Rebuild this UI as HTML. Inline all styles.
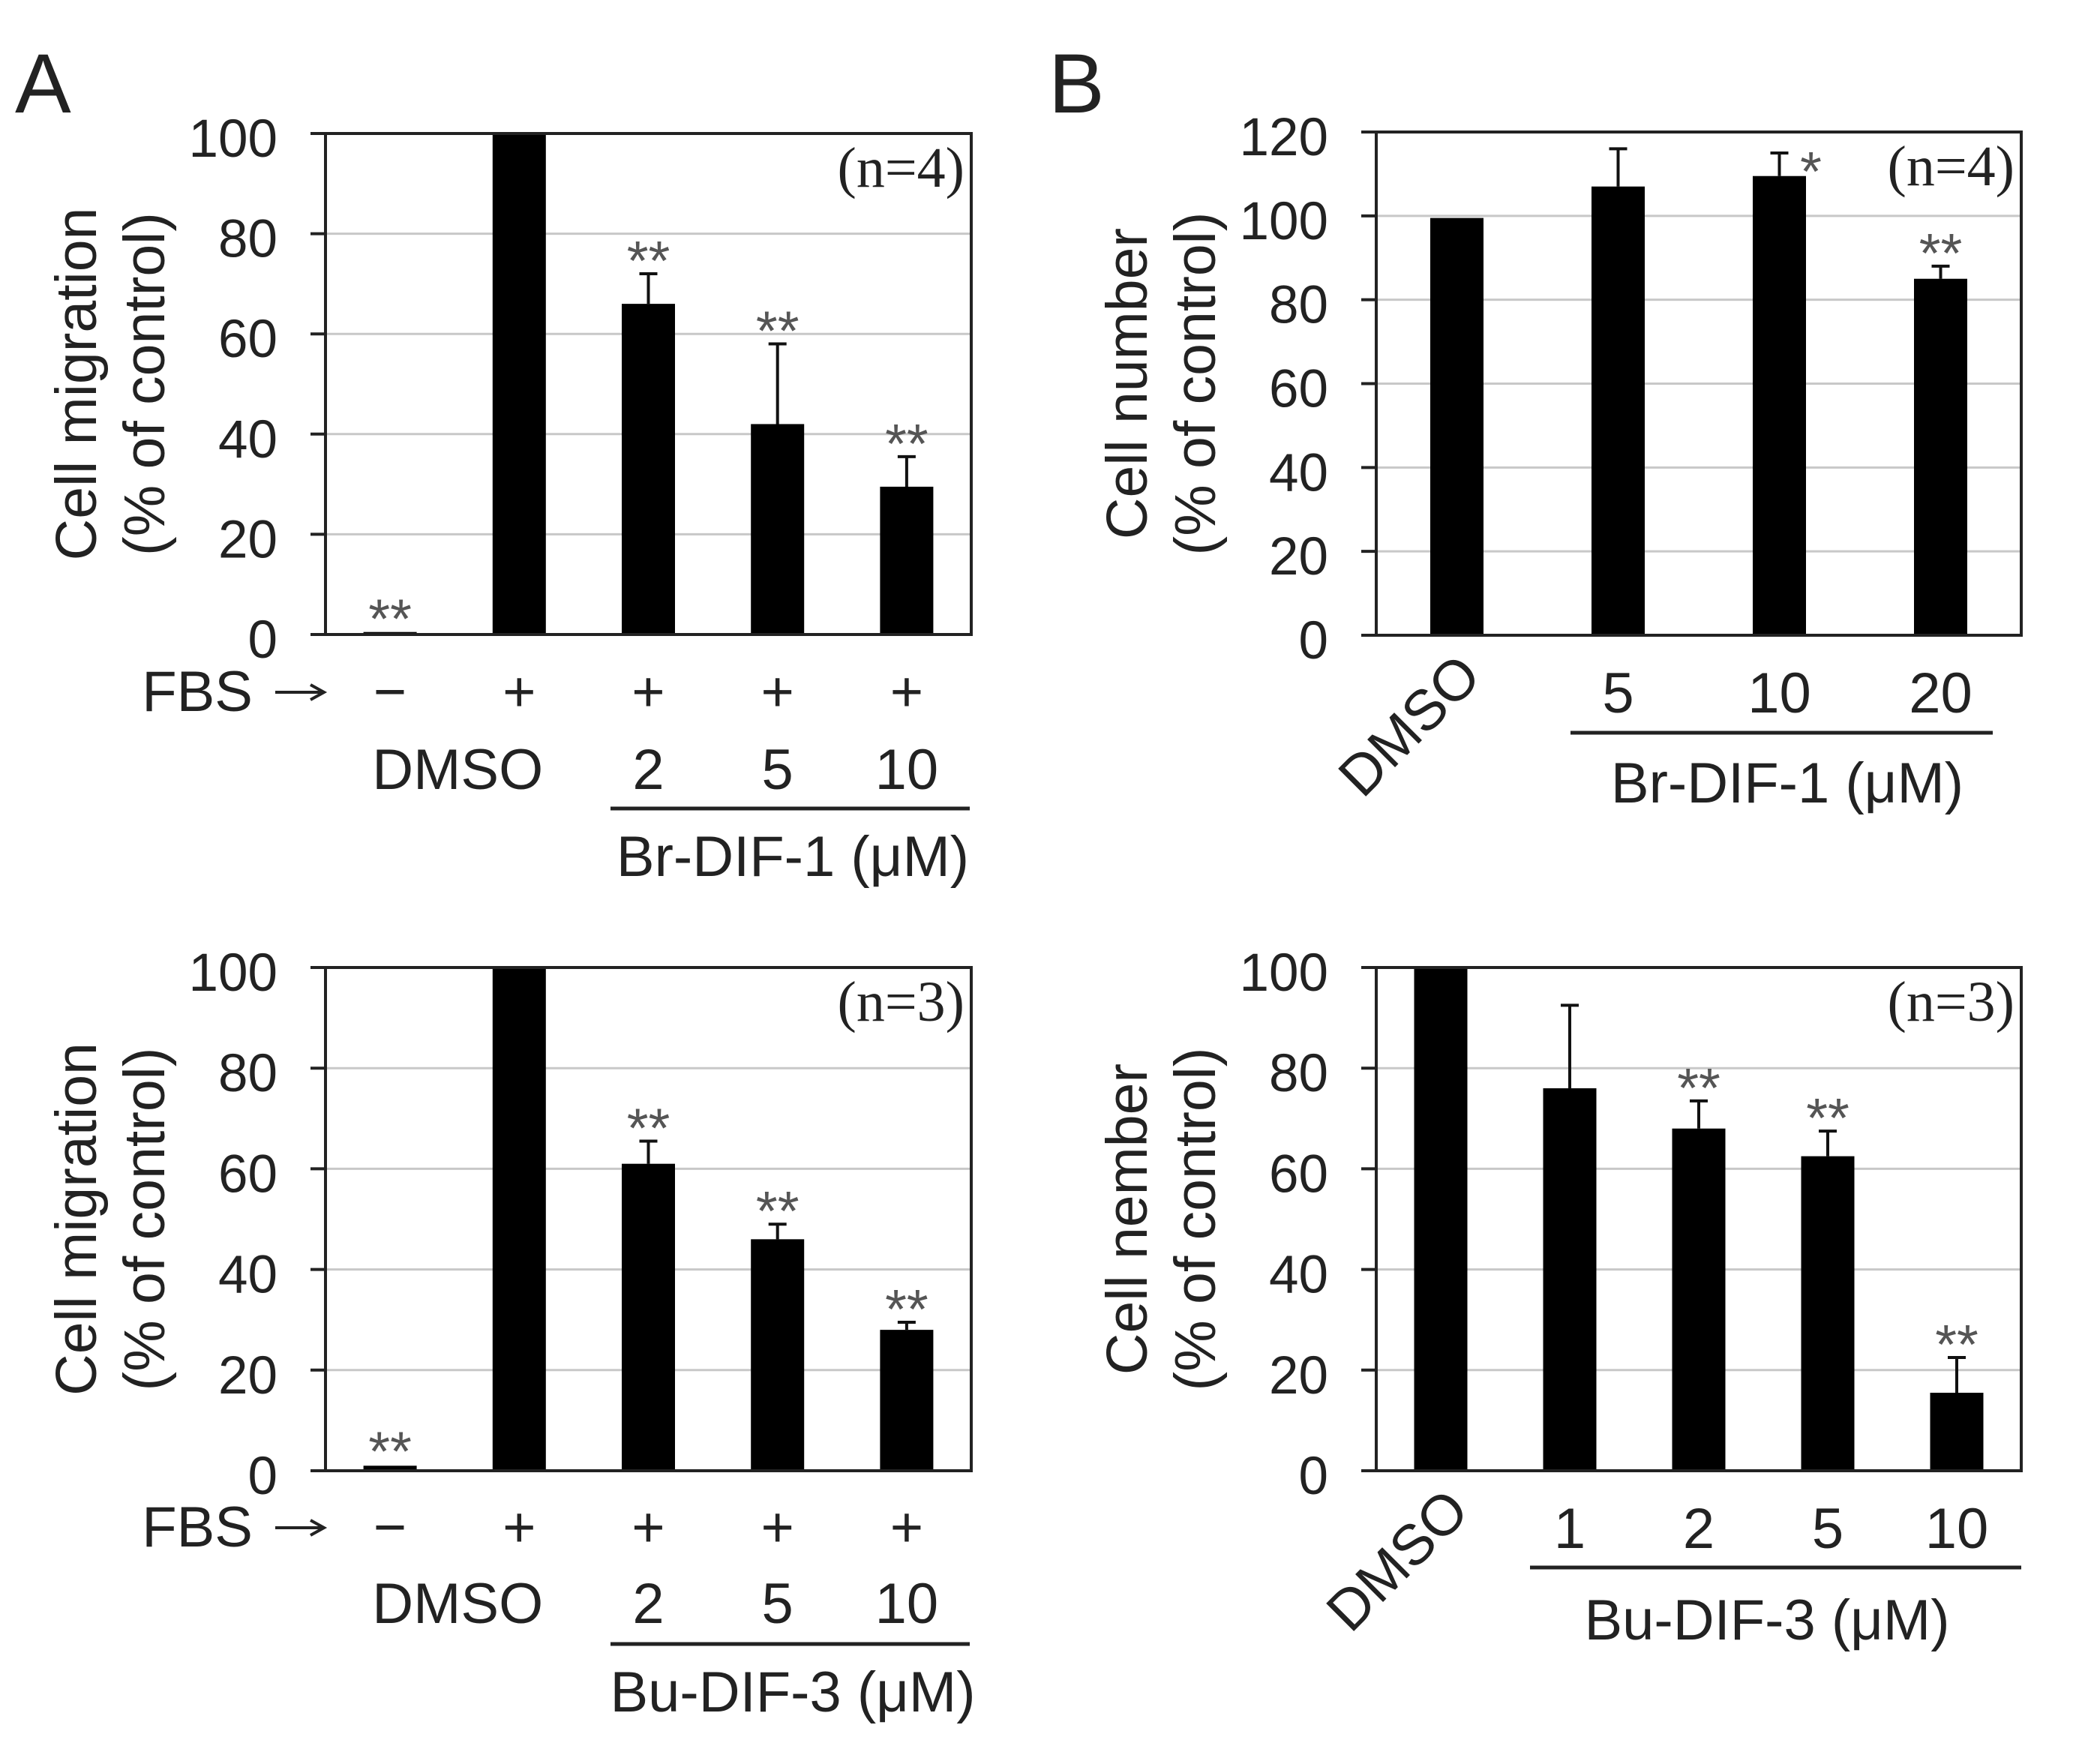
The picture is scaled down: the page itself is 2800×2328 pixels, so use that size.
<!DOCTYPE html>
<html><head><meta charset="utf-8"><style>
html,body{margin:0;padding:0;background:#fff;}
svg{display:block;}
text{font-family:"Liberation Sans",sans-serif;fill:#222;}
.serif{font-family:"Liberation Serif",serif;}
</style></head><body>
<svg id="fig" width="2800" height="2328" viewBox="0 0 2800 2328" xmlns="http://www.w3.org/2000/svg">
<text x="20" y="150" font-size="112">A</text>
<text x="1398" y="150" font-size="112">B</text>
</svg>
<script>
// Panel A top: Br-DIF-1 migration
const a1Categories = ["DMSO-", "DMSO", "2", "5", "10"];
const a1Values = [0.5, 100, 66, 42, 29.5];
const a1Errors = [0, 0, 6, 16, 6];
const a1Stars = ["**", "", "**", "**", "**"];
// Panel A bottom: Bu-DIF-3 migration
const a2Categories = ["DMSO-", "DMSO", "2", "5", "10"];
const a2Values = [1, 100, 61, 46, 28];
const a2Errors = [0.3, 0, 4.5, 3, 1.5];
const a2Stars = ["**", "", "**", "**", "**"];
// Panel B top: Br-DIF-1 cell number
const b1Categories = ["DMSO", "5", "10", "20"];
const b1Values = [99.5, 107, 109.5, 85];
const b1Errors = [0.5, 9, 5.5, 3];
const b1Stars = ["", "", "*", "**"];
// Panel B bottom: Bu-DIF-3 cell number
const b2Categories = ["DMSO", "1", "2", "5", "10"];
const b2Values = [100, 76, 68, 62.5, 15.5];
const b2Errors = [0, 16.5, 5.5, 5, 7];
const b2Stars = ["", "", "**", "**", "**"];
const ticksA = [0, 20, 40, 60, 80, 100];
const ticksB1 = [0, 20, 40, 60, 80, 100, 120];

const NS = "http://www.w3.org/2000/svg";
const svg = document.getElementById("fig");
function el(tag, attrs, parent, txt) {
  const e = document.createElementNS(NS, tag);
  for (const k in attrs) e.setAttribute(k, attrs[k]);
  if (txt !== undefined) e.textContent = txt;
  (parent || svg).appendChild(e);
  return e;
}

function drawPanel(id, box, cats, vals, errs, stars, ticks, ymax, titleLines, nText) {
  const g = el("g", {}, svg);
  
  
  const L = box.l, R = box.r, T = box.t, B = box.b;
  const y = v => B - (v / ymax) * (B - T);
  const slot = (R - L) / cats.length;
  const xc = i => L + slot * (i + 0.5);
  ticks.forEach(t => {
    if (t > 0 && t < ymax) {
      const gl = el("line", {x1: L, x2: R, y1: y(t), y2: y(t), stroke: "#c8c8c8", "stroke-width": 3}, g);
      
      
    }
    const tk = el("line", {x1: L - 20, x2: L, y1: y(t), y2: y(t), stroke: "#222", "stroke-width": 4}, g);
    
    
    const tl = el("text", {x: L - 64, y: y(t) + 31, "font-size": 71, "text-anchor": "end"}, g, String(t));
    
    
  });
  const bw = 71;
  vals.forEach((v, i) => {
    const bar = el("rect", {x: xc(i) - bw / 2, y: y(v), width: bw, height: B - y(v), fill: "#000"}, g);
    
    
    const top = y(v + errs[i]);
    if (errs[i] > 0.6) {
      const eb = el("path", {d: `M${xc(i)},${y(v)} V${top} M${xc(i) - 12},${top} H${xc(i) + 12}`, stroke: "#111", "stroke-width": 4, fill: "none"}, g);
      
      
    }
    if (stars[i]) {
      const single = stars[i] === "*";
      const sx = single ? xc(i) + 42 : xc(i);
      const sy = single ? top + 20 : top - 22;
      const st = el("text", {x: sx, y: sy + 30, "font-size": 74, "text-anchor": "middle", style: "fill:#555"}, g, stars[i]);
      
      
    }
  });
  const fr = el("rect", {x: L, y: T, width: R - L, height: B - T, fill: "none", stroke: "#222", "stroke-width": 4}, g);
  
  
  const nl = el("text", {x: R - 9, y: T + 71, "font-size": 76, "text-anchor": "end", class: "serif"}, g, nText);
  
  
  const cy = (T + B) / 2;
  const offs = [L - 306, L - 215];
  titleLines.forEach((s, k) => {
    const tx = offs[k];
    const tt = el("text", {x: tx, y: cy, "font-size": 77, "text-anchor": "middle", transform: `rotate(-90 ${tx} ${cy})`}, g, s);
    
    
  });
  return {xc, g};
}

function lbl(g, name, x, yy, s, size, extra) {
  const t = el("text", Object.assign({x: x, y: yy, "font-size": size || 76, "text-anchor": "middle"}, extra || {}), g, s);
  
  
  return t;
}
function hline(g, x1, x2, yy) {
  const l = el("line", {x1: x1, x2: x2, y1: yy, y2: yy, stroke: "#222", "stroke-width": 5}, g);
  
  
}
function fbsRow(g, xc, base) {
  lbl(g, "fbs-label", 337, base, "FBS", 76, {"text-anchor": "end"});
  const ay = base - 25;
  const ar = el("path", {d: `M367,${ay} H430 M414,${ay - 10} L432,${ay} L414,${ay + 10}`, stroke: "#222", "stroke-width": 4, fill: "none"}, g);
  
  
  ["\u2212", "+", "+", "+", "+"].forEach((s, i) => lbl(g, "fbs-sign", xc(i), base, s));
}

// A top
let p = drawPanel("a-top", {l: 434, r: 1295, t: 178, b: 846}, a1Categories, a1Values, a1Errors, a1Stars, ticksA, 100, ["Cell migration", "(% of control)"], "(n=4)");
fbsRow(p.g, p.xc, 948);
lbl(p.g, "x-label-dmso", (p.xc(0) + p.xc(1)) / 2 + 4, 1052, "DMSO");
a1Categories.slice(2).forEach((s, i) => lbl(p.g, "x-tick-label", p.xc(i + 2), 1052, s));
hline(p.g, 814, 1293, 1078);
lbl(p.g, "group-label", 1057, 1168, "Br-DIF-1 (\u03bcM)");

// A bottom
p = drawPanel("a-bottom", {l: 434, r: 1295, t: 1290, b: 1961}, a2Categories, a2Values, a2Errors, a2Stars, ticksA, 100, ["Cell migration", "(% of control)"], "(n=3)");
fbsRow(p.g, p.xc, 2062);
lbl(p.g, "x-label-dmso", (p.xc(0) + p.xc(1)) / 2 + 4, 2164, "DMSO");
a2Categories.slice(2).forEach((s, i) => lbl(p.g, "x-tick-label", p.xc(i + 2), 2164, s));
hline(p.g, 814, 1293, 2192);
lbl(p.g, "group-label", 1057, 2282, "Bu-DIF-3 (\u03bcM)");

// B top
p = drawPanel("b-top", {l: 1835, r: 2695, t: 176, b: 847}, b1Categories, b1Values, b1Errors, b1Stars, ticksB1, 120, ["Cell number", "(% of control)"], "(n=4)");
lbl(p.g, "x-label-dmso", 1978, 905, "DMSO", 76, {"text-anchor": "end", transform: "rotate(-45 1978 905)"});
b1Categories.slice(1).forEach((s, i) => lbl(p.g, "x-tick-label", p.xc(i + 1), 950, s));
hline(p.g, 2094, 2657, 977);
lbl(p.g, "group-label", 2383, 1070, "Br-DIF-1 (\u03bcM)");

// B bottom
p = drawPanel("b-bottom", {l: 1835, r: 2695, t: 1290, b: 1961}, b2Categories, b2Values, b2Errors, b2Stars, ticksA, 100, ["Cell nember", "(% of control)"], "(n=3)");
lbl(p.g, "x-label-dmso", 1962, 2018, "DMSO", 76, {"text-anchor": "end", transform: "rotate(-45 1962 2018)"});
b2Categories.slice(1).forEach((s, i) => lbl(p.g, "x-tick-label", p.xc(i + 1), 2064, s));
hline(p.g, 2040, 2695, 2090);
lbl(p.g, "group-label", 2356, 2186, "Bu-DIF-3 (\u03bcM)");
</script>
</body></html>
